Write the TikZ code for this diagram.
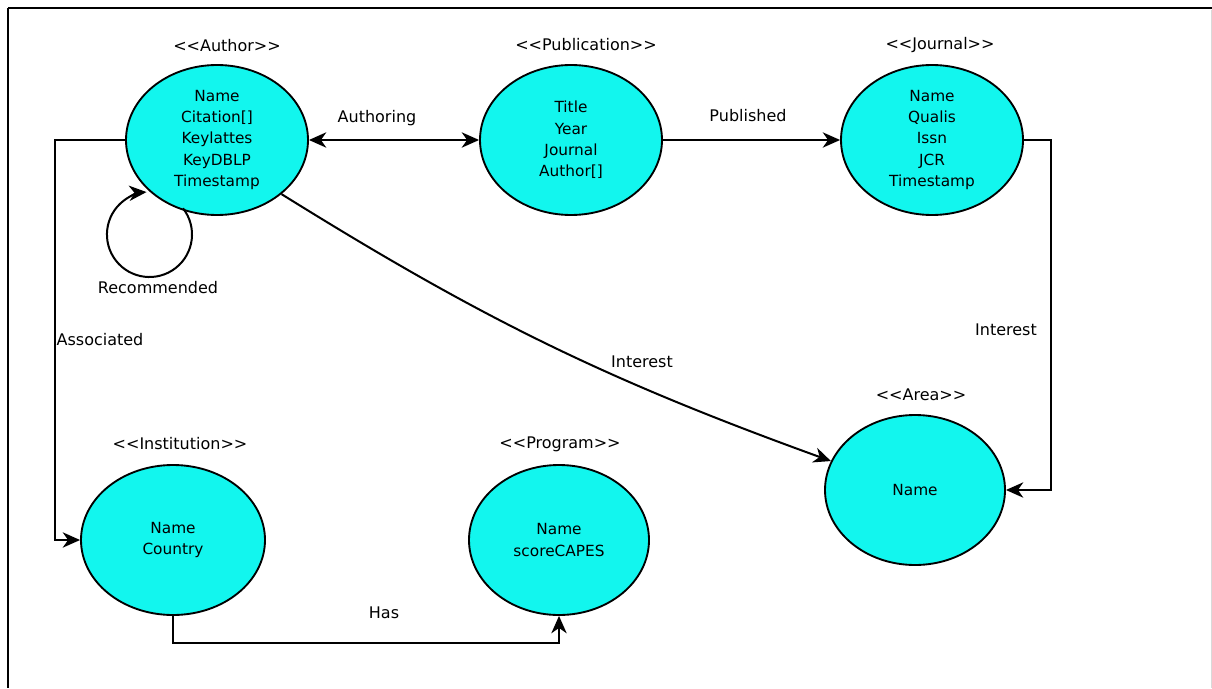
\documentclass[tikz,border=0pt]{standalone}
\usepackage{fontspec}
\setmainfont{DejaVu Sans}
\usetikzlibrary{shapes.geometric,arrows.meta}
\definecolor{ecyan}{RGB}{18,246,238}
\begin{document}
\begin{tikzpicture}[x=0.75pt,y=0.75pt,
  ent/.style={ellipse,draw,line width=1.4pt,fill=ecyan,inner sep=0pt,minimum height=112.5pt},
  attr/.style={align=center,inner sep=0pt,font=\fontsize{11.5}{16}\selectfont},
  lbl/.style={inner sep=0pt,font=\fontsize{12}{14}\selectfont},
  conn/.style={line width=1.5pt},
  tip/.style={-{Stealth[length=13pt,width=11.5pt,inset=4pt]}}]
\useasboundingbox (0,0) rectangle (1212,-688);
% frame
\draw[line width=2.2pt] (8,-8) -- (1212,-8);
\draw[line width=1.6pt] (8,-8) -- (8,-688);
\draw[line width=0.8pt,black!15] (1211.5,-10) -- (1211.5,-688);

% entities
\node[ent,minimum width=136.5pt] (a) at (217,-140) {};
\node[ent,minimum width=136.5pt] (p) at (571,-140) {};
\node[ent,minimum width=136.5pt] (j) at (932,-140) {};
\node[ent,minimum width=135pt] (ar) at (915,-490) {};
\node[ent,minimum width=138pt] (inst) at (173,-540) {};
\node[ent,minimum width=135pt] (pr) at (559,-540) {};

\node[attr] (aT) at (217,-140) {Name\\Citation[]\\Keylattes\\KeyDBLP\\Timestamp};
\node[attr] (pT) at (571,-140) {Title\\Year\\Journal\\Author[]};
\node[attr] (jT) at (932,-140) {Name\\Qualis\\Issn\\JCR\\Timestamp};
\node[attr] (arT) at (915,-490) {Name};
\node[attr] (instT) at (173,-540) {Name\\Country};
\node[attr] (prT) at (559,-540) {Name\\scoreCAPES};

% stereotypes
\node[lbl] (aS) at (227,-46) {{<}\kern0pt{<}Author{>}\kern0pt{>}};
\node[lbl] (pS) at (586,-45) {{<}\kern0pt{<}Publication{>}\kern0pt{>}};
\node[lbl] (jS) at (940,-45) {{<}\kern0pt{<}Journal{>}\kern0pt{>}};
\node[lbl] (arS) at (921,-395) {{<}\kern0pt{<}Area{>}\kern0pt{>}};
\node[lbl] (instS) at (180,-444) {{<}\kern0pt{<}Institution{>}\kern0pt{>}};
\node[lbl] (prS) at (560,-444) {{<}\kern0pt{<}Program{>}\kern0pt{>}};

% connectors
\coordinate (assocL) at (55,-140);
\draw[conn,tip] (a.west) -- (assocL) |- (inst.west);
\node[lbl] (assocLbl) at (100,-340) {Associated};

\draw[conn,{Stealth[length=13pt,width=11.5pt,inset=4pt]}-{Stealth[length=13pt,width=11.5pt,inset=4pt]}] (a.east) -- (p.west);
\node[lbl] (authLbl) at (377,-118) {Authoring};

\draw[conn,tip] (p.east) -- (j.west);
\node[lbl] (pubLbl) at (748,-116) {Published};

\coordinate (jR) at (1051,-140);
\draw[conn,tip] (j.east) -- (jR) |- (ar.east);
\node[lbl] (int1Lbl) at (1006,-330) {Interest};

\draw[conn,tip] (a.-40) to[bend right=6] (ar.161);
\node[lbl] (int2Lbl) at (642,-362) {Interest};

\coordinate (hasB) at (173,-643);
\draw[conn,tip] (inst.south) -- (hasB) -| (pr.south);
\node[lbl] (hasLbl) at (384,-613) {Has};

\coordinate (rs) at (183,-208.3);
\draw[conn,tip] (rs) arc[start angle=38,end angle=-266,radius=31.9pt];
\node[lbl] (recLbl) at (158,-288) {Recommended};
\end{tikzpicture}
\end{document}
